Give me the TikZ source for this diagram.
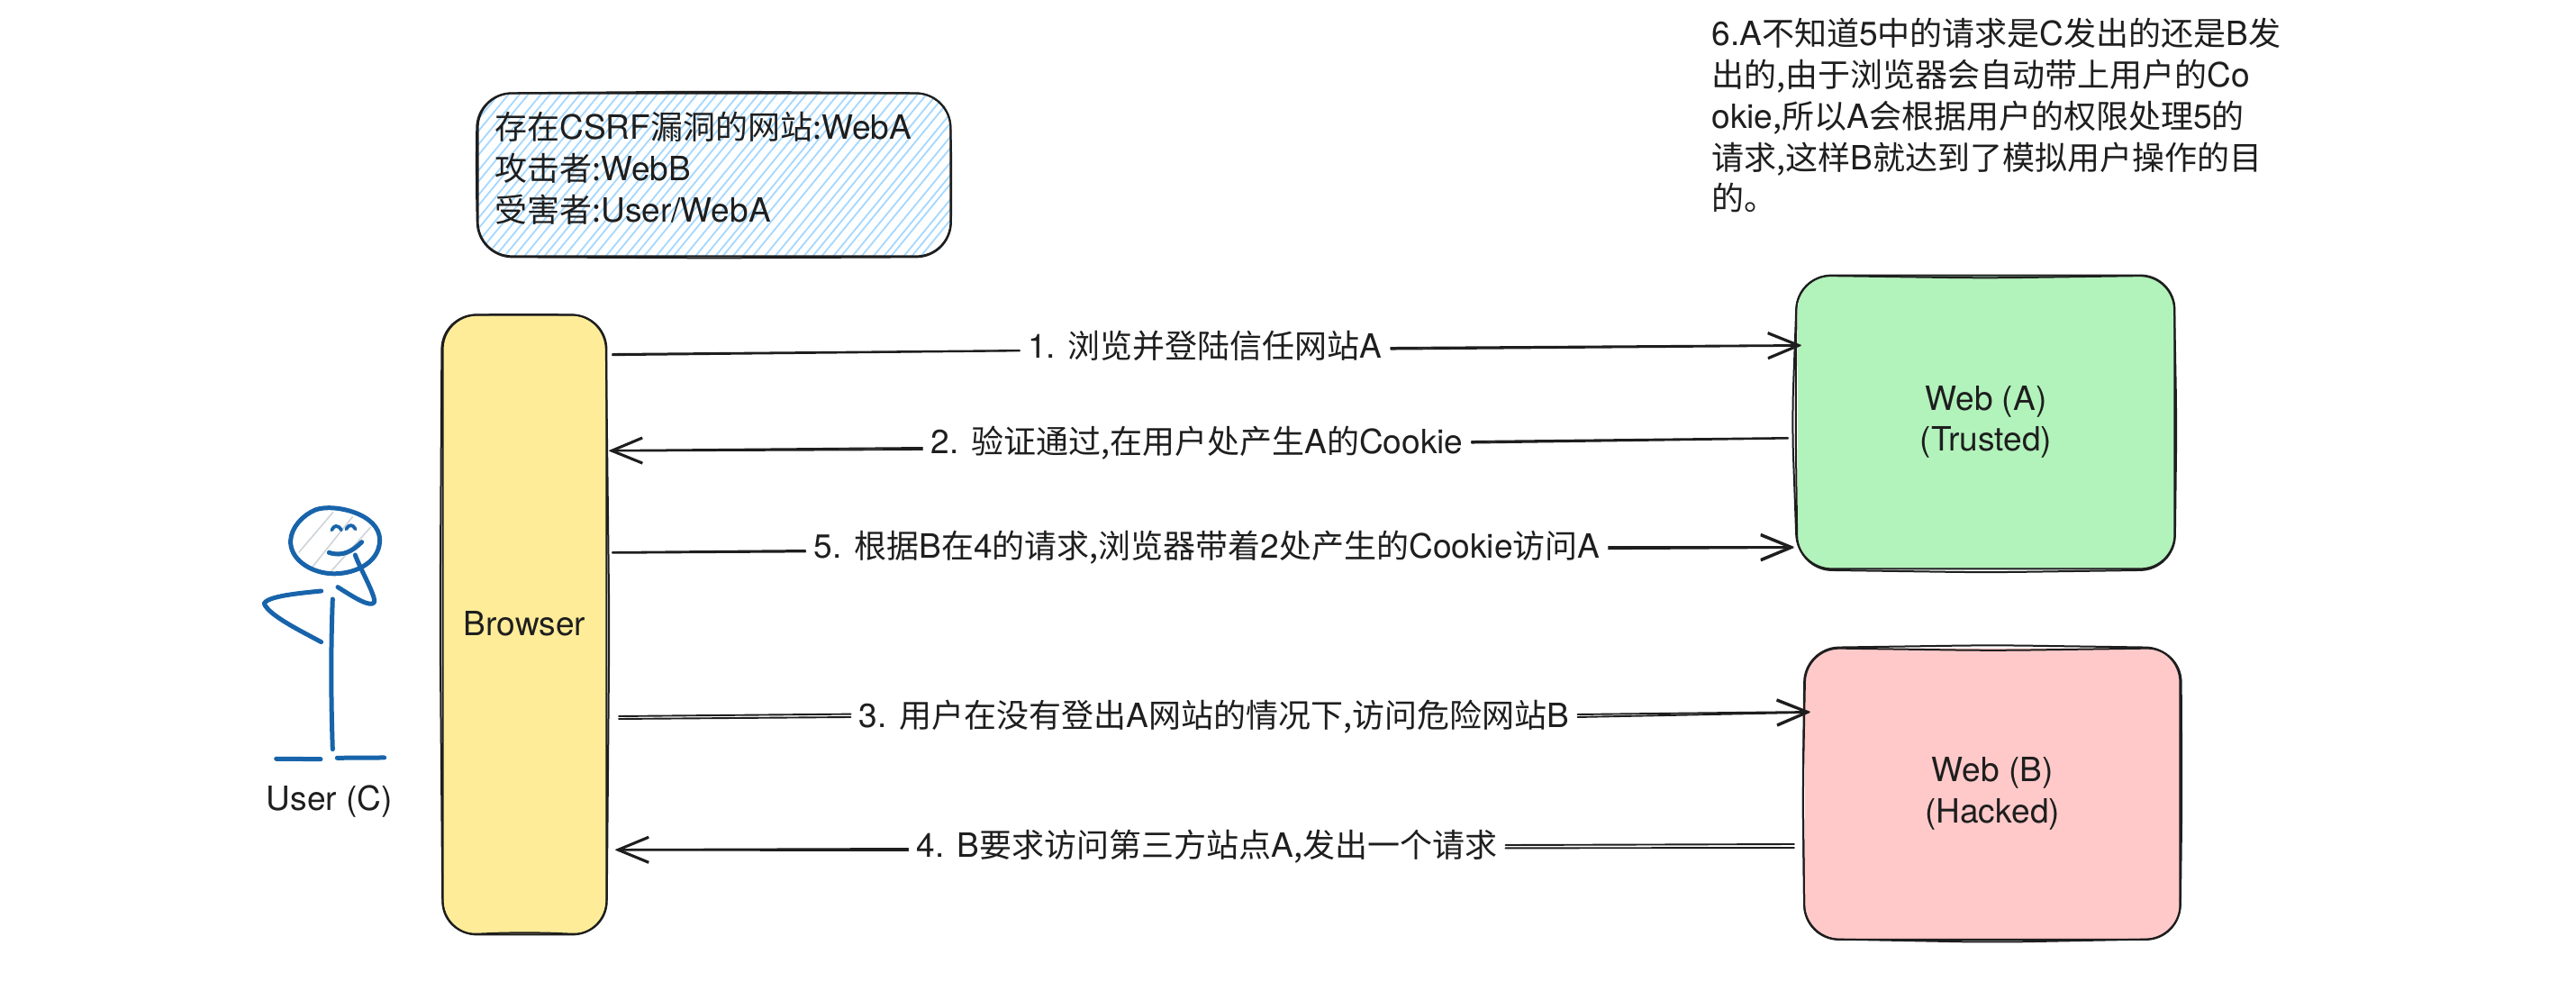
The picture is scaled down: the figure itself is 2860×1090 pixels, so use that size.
\documentclass[tikz,border=0pt]{standalone}
\usepackage{fontspec}
\setmainfont[Scale=1.03]{TeX Gyre Heros}
\newfontfamily\cjk{Noto Sans CJK SC}
\newcommand\zh[1]{{\cjk #1}}
\usetikzlibrary{calc,arrows.meta}
\definecolor{ink}{HTML}{1E1E1E}
\definecolor{browserfill}{HTML}{FFEC99}
\definecolor{webafill}{HTML}{B2F2BB}
\definecolor{webbfill}{HTML}{FFC9C9}
\definecolor{hatchblue}{HTML}{A5D8FF}
\definecolor{personblue}{HTML}{1864AB}
\definecolor{hatchgrey}{HTML}{CED4DA}
\tikzset{
  txt/.style={text=ink,font=\fontsize{18}{22.9}\selectfont},
  boxnode/.style={txt,inner sep=0pt,align=center,rounded corners=19pt},
  steplabel/.style={txt,inner xsep=4.5pt,inner ysep=0pt,text height=13pt,text depth=4pt},
  stroke/.style={draw=ink,line width=1pt,line cap=round,line join=round},
  sk/.style={stroke,rounded corners=19pt},
  edge/.style={draw=ink,line width=.95pt,line cap=round},
  headed/.style={-{Straight Barb[length=17pt,width=14pt,line width=1.2pt]}},
  person/.style={draw=personblue,line width=2.5pt,line cap=round,line join=round},
}
% name, then bow of north, east, south, west edges, then a shift of the whole stroke
\newcommand\skbox[6]{\draw[sk] ([yshift=#2pt,xshift=#6pt]#1.north) -- ([xshift=#6pt]#1.north east) -- ([xshift=#3pt]#1.east) -- ([yshift=#6pt]#1.south east) -- ([yshift=#4pt]#1.south) -- ([yshift=#6pt]#1.south west) -- ([xshift=#5pt]#1.west) -- ([xshift=#6pt]#1.north west) -- cycle;}
% optional style, from, to, y offset of the second stroke at each end
\newcommand\twin[5][]{\draw[edge,#1] (#2) -- (#3); \draw[edge,#1] ([yshift=#4pt]#2) -- ([yshift=#5pt]#3);}
\begin{document}
\begin{tikzpicture}[x=.5pt,y=-.5pt]
\useasboundingbox (0,0) rectangle (2860,1090);
\fill[white] (0,0) rectangle (2860,1090);

% note
\begin{scope}
\clip[rounded corners=16pt] (531,104) rectangle (1055,284);
\pgfmathsetseed{7}
\foreach \i in {0,...,64}{
  \pgfmathsetmacro\xa{390+11*\i+rnd*4}
  \draw[hatchblue,line width=.9pt] (\xa,290) -- (\xa+160,95);
}
\end{scope}
\node[txt,align=left,inner sep=0pt,anchor=north west] (note) at (549,124)
 {\zh{存在}CSRF\zh{漏洞的网站:}WebA\\\zh{攻击者:}WebB\\\zh{受害者:}User/WebA};
\coordinate (noteC) at (793,194);
\node[minimum width=262pt,minimum height=90pt,inner sep=0pt] (notebox) at (noteC) {};
\skbox{notebox}{0}{0}{0}{0}{0}
\skbox{notebox}{1}{.6}{-1}{-1}{-.4}

% boxes
\node[boxnode,fill=browserfill,minimum width=90.5pt,minimum height=343.5pt] (browser) at (582.5,693.5) {\raisebox{1.8pt}{Browser}};
\skbox{browser}{0}{0}{0}{0}{0}
\skbox{browser}{.3}{1.5}{1.5}{-1.5}{-.5}
\node[boxnode,fill=webafill,minimum width=209pt,minimum height=162.5pt] (weba) at (2205,468.5) {Web (A)\\(Trusted)};
\skbox{weba}{0}{0}{0}{-3}{0}
\skbox{weba}{-1.5}{1}{-2}{-1}{-.5}
\node[boxnode,fill=webbfill,minimum width=208pt,minimum height=161.5pt] (webb) at (2212,881) {Web (B)\\(Hacked)};
\skbox{webb}{1.5}{0}{0}{-1}{0}
\skbox{webb}{-1.5}{1}{-1.5}{-1}{.5}

% labels
\node[steplabel] (l1) at (1338,389) {1. \zh{浏览并登陆信任网站}A};
\node[steplabel] (l2) at (1329,495) {2. \zh{验证通过,在用户处产生}A\zh{的}Cookie};
\node[steplabel] (l5) at (1340,611) {5. \zh{根据}B\zh{在}4\zh{的请求,浏览器带着}2\zh{处产生的}Cookie\zh{访问}A};
\node[steplabel] (l3) at (1348,798) {3. \zh{用户在没有登出}A\zh{网站的情况下,访问危险网站}B};
\node[steplabel] (l4) at (1340,942) {4. B\zh{要求访问第三方站点}A\zh{,发出一个请求}};

% connector ends
\coordinate (a1s) at (680,393); \coordinate (a1m) at (l1.west);
\coordinate (a1n) at ([yshift=1.5pt]l1.east); \coordinate (a1e) at (2000,383);
\coordinate (a2s) at (1985,486); \coordinate (a2m) at ([yshift=2.5pt]l2.east);
\coordinate (a2n) at ([yshift=-1pt]l2.west); \coordinate (a2e) at (676,500);
\coordinate (a5s) at (680,613); \coordinate (a5m) at (l5.west);
\coordinate (a5n) at ([yshift=2pt]l5.east); \coordinate (a5e) at (1992,607);
\coordinate (a3s) at (687,798); \coordinate (a3m) at ([yshift=1pt]l3.west);
\coordinate (a3n) at ([yshift=2.5pt]l3.east); \coordinate (a3e) at (2010,790);
\coordinate (a4s) at (1992,937); \coordinate (a4m) at ([yshift=2pt]l4.east);
\coordinate (a4n) at (l4.west); \coordinate (a4e) at (683,943);

\twin{a1s}{a1m}{-.6}{-.2}
\twin[headed]{a1n}{a1e}{-.8}{-.4}
\twin{a2s}{a2m}{-.3}{-.8}
\twin[headed]{a2n}{a2e}{-1}{-.3}
\twin{a5s}{a5m}{-.4}{-.7}
\twin[headed]{a5n}{a5e}{-1.1}{-.5}
\twin{a3s}{a3m}{1.5}{1.7}
\twin[headed]{a3n}{a3e}{-1.5}{-.4}
\twin{a4s}{a4m}{-2}{-1.7}
\twin[headed]{a4n}{a4e}{-1}{-.3}

% side text
\node[txt,align=left,inner sep=0pt,anchor=north west] (side) at (1900,20)
 {6.A\zh{不知道}5\zh{中的请求是}C\zh{发出的还是}B\zh{发}\\\zh{出的,由于浏览器会自动带上用户的}Co\\okie\zh{,所以}A\zh{会根据用户的权限处理}5\zh{的}\\\zh{请求,这样}B\zh{就达到了模拟用户操作的目}\\\zh{的。}};

% person
\begin{scope}[shift={(260,520)},scale=.3333]
\draw[hatchgrey,line width=.8pt] (215,280) -- (330,145) (255,335) -- (395,160) (325,340) -- (455,195);
\draw[person] (270,138) .. controls (330,115) and (487,150) .. (485,240) .. controls (483,320) and (390,355) .. (320,350) .. controls (250,345) and (185,300) .. (188,240) .. controls (190,195) and (230,155) .. (270,138);
\draw[person,line width=1.9pt] (325,205) .. controls (332,190) and (345,185) .. (357,205);
\draw[person,line width=1.9pt] (373,202) .. controls (382,185) and (395,185) .. (404,202);
\draw[person] (316,280) .. controls (360,295) and (395,275) .. (425,245);
\draw[person] (403,288) .. controls (420,335) and (470,420) .. (467,445) .. controls (455,465) and (400,430) .. (345,395);
\draw[person] (290,408) .. controls (220,415) and (110,425) .. (100,450) .. controls (115,490) and (230,545) .. (290,578);
\draw[person] (328,435) .. controls (322,600) and (322,750) .. (328,935);
\draw[person] (140,967) -- (288,968);
\draw[person] (343,964) -- (500,963);
\end{scope}
\node[txt,inner sep=0pt] (user) at (366,890) {User (C)};
\end{tikzpicture}
\end{document}
